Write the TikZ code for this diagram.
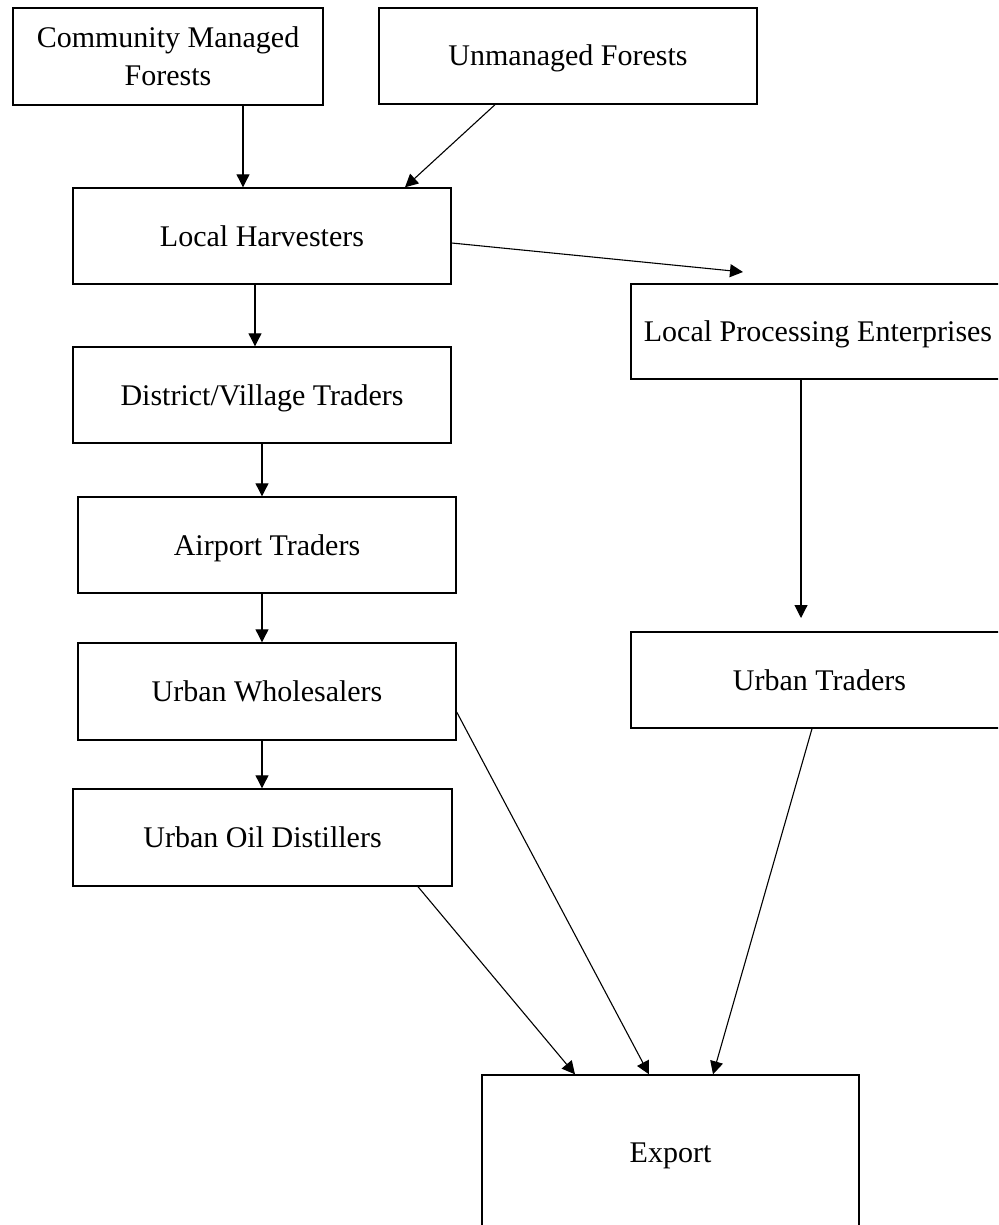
\documentclass[tikz,border=0pt]{standalone}
\usepackage{fontspec}
\setmainfont{Liberation Serif}
\usetikzlibrary{arrows.meta}
\begin{document}
\begin{tikzpicture}[x=1pt,y=-1pt,
  box/.style={draw=black, line width=1.4pt, rectangle, inner sep=0pt,
    font=\fontsize{30}{38}\selectfont, align=center},
  one/.style={box, text height=20pt, text depth=0pt},
  arr/.style={draw=black, line width=1.1pt, -{Triangle[length=13pt,width=13pt]}}]
\useasboundingbox (0,0) rectangle (998,1225);
\clip (0,0) rectangle (998,1225);
\node[box, minimum width=310pt, minimum height=97pt] (cmf) at (168,56.5) {Community Managed\\Forests};
\node[one, minimum width=378pt, minimum height=96pt] (uf) at (568,56) {Unmanaged Forests};
\node[one, minimum width=378pt, minimum height=96pt] (lh) at (262,236) {Local Harvesters};
\node[one, minimum width=378pt, minimum height=96pt] (dv) at (262,395) {District/Village Traders};
\node[one, minimum width=378pt, minimum height=96pt] (at) at (267,545) {Airport Traders};
\node[one, minimum width=378pt, minimum height=97pt] (uw) at (267,691.5) {Urban Wholesalers};
\node[one, minimum width=379pt, minimum height=97pt] (uod) at (262.5,837.5) {Urban Oil Distillers};
\node[one, minimum width=374pt, minimum height=95pt] (lpe) at (818,331.5) {Local Processing Enterprises};
\node[one, minimum width=377pt, minimum height=96pt] (ut) at (819.5,680) {Urban Traders};
\node[one, minimum width=377pt, minimum height=154pt] (export) at (670.5,1152) {Export};
\coordinate (lpein) at (743,272);
\coordinate (utin) at (801,618);
\draw[arr] (243,0 |- cmf.south) -- (243,0 |- lh.north);
\draw[arr] (495,0 |- uf.south) -- (405,0 |- lh.north);
\draw[arr] (lh.east |- 0,243) -- (lpein);
\draw[arr] (255,0 |- lh.south) -- (255,0 |- dv.north);
\draw[arr] (262,0 |- dv.south) -- (262,0 |- at.north);
\draw[arr] (262,0 |- at.south) -- (262,0 |- uw.north);
\draw[arr] (262,0 |- uw.south) -- (262,0 |- uod.north);
\draw[arr] (801,0 |- lpe.south) -- (utin);
\draw[arr] (uw.east |- 0,712) -- (649,0 |- export.north);
\draw[arr] (418,0 |- uod.south) -- (575,0 |- export.north);
\draw[arr] (812,0 |- ut.south) -- (713,0 |- export.north);
\end{tikzpicture}
\end{document}
